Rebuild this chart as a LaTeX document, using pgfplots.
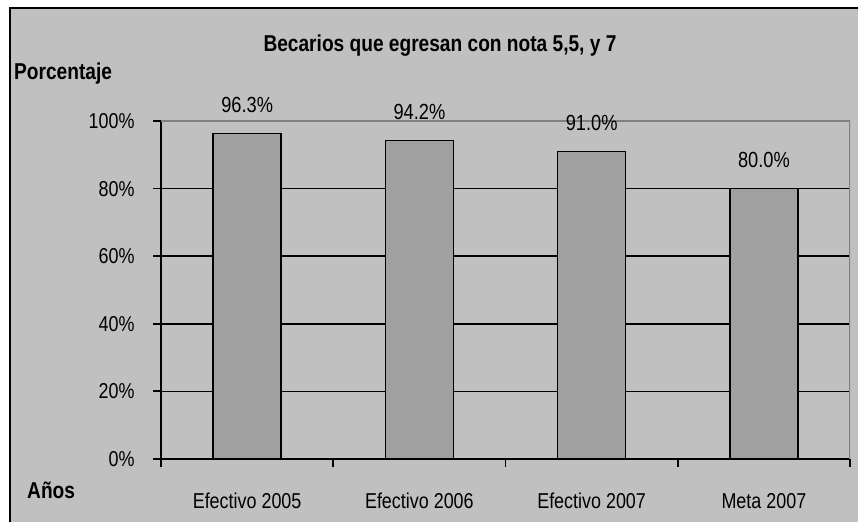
\documentclass[border=0pt]{standalone}
\usepackage{pgfplots}
\pgfplotsset{compat=1.18}
\usepackage{graphicx}
\usepackage{fontspec}
\setmainfont{Liberation Sans}

\definecolor{chartbg}{HTML}{C0C0C0}
\definecolor{barfill}{HTML}{A0A0A0}
\definecolor{frameline}{HTML}{808080}

% reference text is drawn a bit taller than Arial
\newcommand{\st}[1]{\scalebox{1}[1.2]{#1}}

\begin{document}
\begin{tikzpicture}
  \path[use as bounding box, clip] (0,0) rectangle (858bp,522bp);
  \fill[white] (0,0) rectangle (858bp,522bp);
  \filldraw[fill=chartbg, draw=black, line width=2.5bp] (10bp,-20bp) rectangle (880bp,514bp);

  \begin{axis}[
    at={(161bp,63bp)}, anchor=south west,
    scale only axis,
    width=689bp, height=338bp,
    ybar, bar width=68bp,
    xmin=-0.5, xmax=3.5,
    ymin=0, ymax=100,
    axis x line*=bottom, axis y line*=left,
    axis line style={black, line width=1.8bp},
    xtick={0,1,2,3},
    xticklabels={\st{Efectivo 2005}, \st{Efectivo 2006}, \st{Efectivo 2007}, \st{Meta 2007}},
    major x tick style={draw=none},
    minor xtick={-0.5,0.5,1.5,2.5,3.5},
    minor x tick style={black, line width=1.8bp},
    ytick={0,20,40,60,80,100},
    yticklabels={\st{0\%},\st{20\%},\st{40\%},\st{60\%},\st{80\%},\st{100\%}},
    major y tick style={black, line width=1.8bp},
    tick align=outside,
    major tick length=8bp, minor tick length=8bp,
    ymajorgrids,
    major grid style={black, line width=1.5bp},
    /pgf/number format/assume math mode=true,
    tick label style={font=\fontsize{18}{21}\selectfont},
    xticklabel style={anchor=base, yshift=-41bp},
    yticklabel style={xshift=-15bp},
    nodes near coords={\st{\pgfmathprintnumber[fixed,fixed zerofill,precision=1]{\pgfplotspointmeta}\%}},
    every node near coord/.append style={font=\fontsize{18.3}{21}\selectfont, anchor=base, yshift=21bp},
  ]
    \addplot[fill=barfill, draw=black, line width=1.5bp]
      coordinates {(0,96.3) (1,94.2) (2,91.0) (3,80.0)};
    \draw[frameline, line width=1.2bp] (rel axis cs:0,1) -- (rel axis cs:1,1) -- (rel axis cs:1,0);
  \end{axis}

  \node[anchor=base, font=\bfseries\fontsize{19.2}{23}\selectfont] at (440bp,470bp) {\st{Becarios que egresan con nota 5,5, y 7}};
  \node[anchor=base west, inner sep=0pt, font=\bfseries\fontsize{19.2}{23}\selectfont] at (14bp,442bp) {\st{Porcentaje}};
  \node[anchor=base west, inner sep=0pt, font=\bfseries\fontsize{19.2}{23}\selectfont] at (27bp,24bp) {\st{Años}};
\end{tikzpicture}
\end{document}
